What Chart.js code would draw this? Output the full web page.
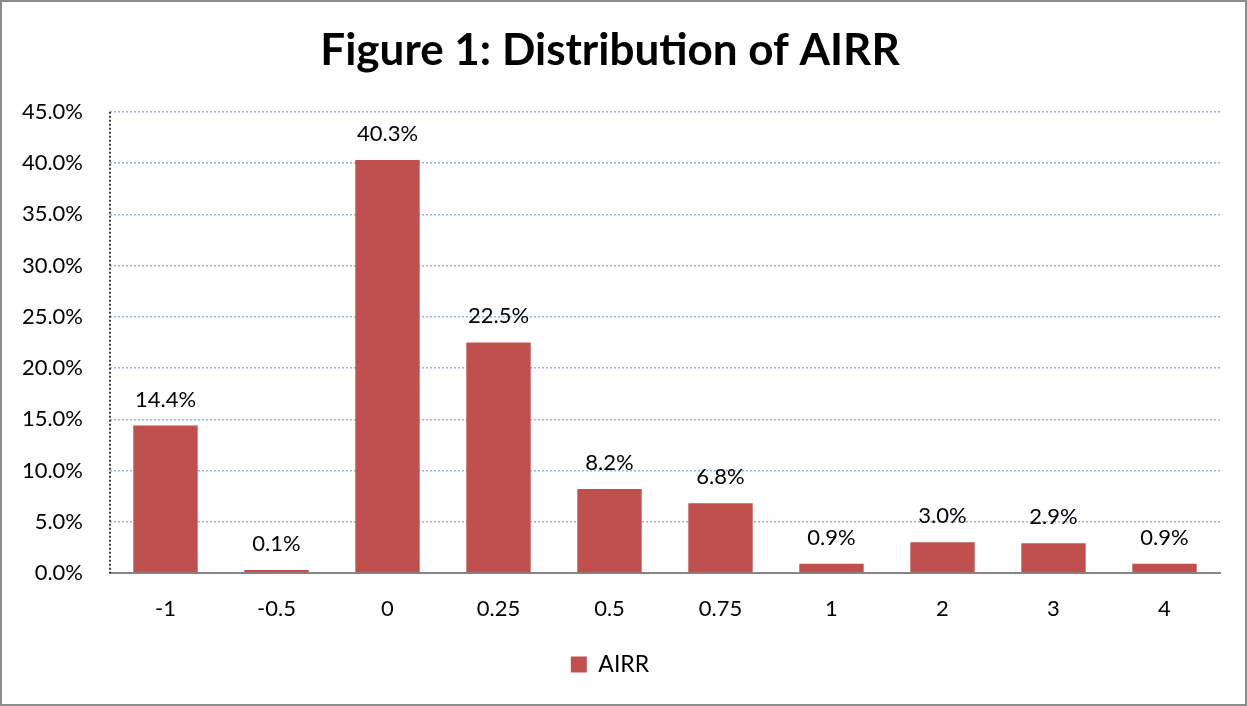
<!DOCTYPE html>
<html>
<head>
<meta charset="utf-8">
<script src="https://cdn.jsdelivr.net/npm/chart.js@4/dist/chart.umd.min.js"></script>
<style>
    body { margin: 0; background: #fff; }
    #wrap { position: relative; width: 1247px; height: 706px; }
    #frame { position: absolute; left: 0; top: 0; right: 0; bottom: 0; border: 2px solid #8c8c8c; pointer-events: none; }
</style>
</head>
<body>
<div id="wrap">
    <canvas id="chart-airr" width="1247" height="706"></canvas>
    <div id="frame"></div>
</div>
<script>
const categories = ["-1", "-0.5", "0", "0.25", "0.5", "0.75", "1", "2", "3", "4"];
const airrShares = [14.4, 0.1, 40.3, 22.5, 8.2, 6.8, 0.9, 3.0, 2.9, 0.9];
const yTicks = [0, 5, 10, 15, 20, 25, 30, 35, 40, 45];

const fontName = "Lato, 'Liberation Sans', sans-serif";

// labels above each bar, like the excel data labels
const barLabels = {
    id: "barLabels",
    afterDatasetsDraw(chart) {
        const ctx = chart.ctx;
        const meta = chart.getDatasetMeta(0);
        ctx.save();
        ctx.font = "22px " + fontName;
        ctx.fillStyle = "#000";
        ctx.textAlign = "center";
        ctx.textBaseline = "middle";
        meta.data.forEach((bar, i) => {
            ctx.fillText(airrShares[i].toFixed(1) + "%", bar.x, bar.y - 26);
        });
        ctx.restore();
    }
};

// dotted black y axis line
const dottedAxis = {
    id: "dottedAxis",
    afterDraw(chart) {
        const ctx = chart.ctx;
        const area = chart.chartArea;
        ctx.save();
        ctx.strokeStyle = "#000";
        ctx.lineWidth = 1.5;
        ctx.setLineDash([2, 2]);
        ctx.beginPath();
        ctx.moveTo(area.left, area.top);
        ctx.lineTo(area.left, area.bottom);
        ctx.stroke();
        ctx.restore();
    }
};

new Chart(document.getElementById("chart-airr"), {
    type: "bar",
    data: {
        labels: categories,
        datasets: [{
            label: "AIRR",
            data: airrShares,
            backgroundColor: "#C0504D",
            borderWidth: 0,
            minBarLength: 3,
            barPercentage: 0.58,
            categoryPercentage: 1
        }]
    },
    options: {
        responsive: false,
        animation: false,
        layout: { padding: { left: 0, right: 27, top: 0, bottom: 20 } },
        scales: {
            x: {
                grid: { display: false },
                border: { color: "#868686", width: 2 },
                ticks: { color: "#000", padding: 15, font: { family: fontName, size: 22 } },
                afterFit: scale => { scale.height = 70; }
            },
            y: {
                min: 0,
                max: 45,
                afterBuildTicks: scale => { scale.ticks = yTicks.map(v => ({ value: v })); },
                grid: {
                    color: c => c.tick && c.tick.value === 0 ? "rgba(0,0,0,0)" : "#95B3E3",
                    lineWidth: 1.5,
                    drawTicks: false
                },
                border: { display: false, dash: [2, 2] },
                ticks: {
                    color: "#000",
                    padding: 27,
                    font: { family: fontName, size: 22 },
                    callback: v => v.toFixed(1) + "%"
                },
                afterFit: scale => { scale.width = 110; }
            }
        },
        plugins: {
            title: {
                display: true,
                text: "Figure 1: Distribution of AIRR",
                color: "#000",
                font: { family: fontName, size: 44, weight: "bold" },
                padding: { top: 24, bottom: 35 }
            },
            legend: {
                position: "bottom",
                labels: {
                    color: "#000",
                    boxWidth: 16,
                    boxHeight: 16,
                    padding: 10,
                    font: { family: fontName, size: 23 }
                }
            },
            tooltip: { enabled: false }
        }
    },
    plugins: [barLabels, dottedAxis]
});
</script>
</body>
</html>
